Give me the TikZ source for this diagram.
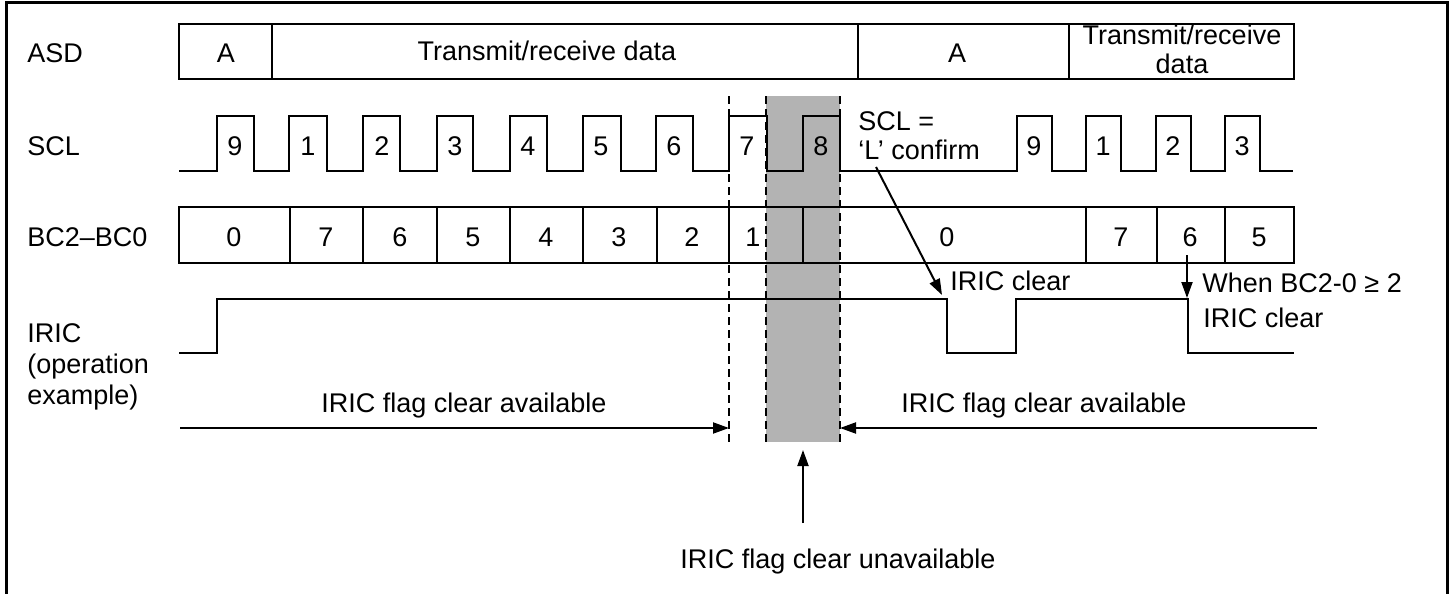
\documentclass[tikz,border=0pt]{standalone}
\usepackage{fontspec}
\setmainfont{Liberation Sans}
\usetikzlibrary{arrows.meta}
\definecolor{grayfill}{HTML}{B3B3B3}
\begin{document}
\begin{tikzpicture}[x=0.5pt,y=-0.5pt,
  sig/.style={line width=1pt, line join=miter},
  frm/.style={line width=1.5pt},
  dsh/.style={line width=0.7pt, dash pattern=on 4pt off 2.5pt},
  arr/.style={line width=1pt, -{Triangle[length=8pt,width=5.5pt]}},
  lbl/.style={inner sep=0pt, font=\fontsize{13.5}{15.5}\selectfont},
  lft/.style={lbl, anchor=base west, align=left},
  ctr/.style={lbl, anchor=base},
]
\useasboundingbox (0,0) rectangle (1453,594);
% frame
\draw[frm] (6,620) -- (6,2) -- (1447,2) -- (1447,620);
% shaded region
\fill[fill=grayfill] (766,96) rectangle (840,442);
% dashed guides
\foreach \x in {729,766,840} \draw[dsh] (\x,96) -- (\x,442);

% row labels
\node[lft] (lASD) at (27,62) {ASD};
\node[lft] (lSCL) at (27,155) {SCL};
\node[lft] (lBC) at (27,246) {BC2–BC0};
\node[lft] (lIRIC) at (27,404) {IRIC\\(operation\\example)};

% ASD row
\draw[sig] (179,24) rectangle (1294,79);
\foreach \x in {272,858,1069} \draw[sig] (\x,24) -- (\x,79);
\node[ctr] (a1) at (226,62) {A};
\node[ctr] (a2) at (547,61) {Transmit/receive data};
\node[ctr] (a3) at (957,62) {A};
\node[lbl, anchor=base, align=center, font=\fontsize{13.5}{14}\selectfont] (a4) at (1182,73) {Transmit/receive\\data};

% SCL row
\draw[sig] (179,171)
  \foreach \r/\f in {217/254,289/327,363/400,437/473,510/547,583/621,656/693,729/767,803/840,1017/1052,1086/1121,1156/1191,1225/1260}
  { -- (\r,171) -- (\r,116) -- (\f,116) -- (\f,171) } -- (1293,171);
\foreach \x/\t [count=\i] in {235/9,308/1,382/2,455/3,528/4,601/5,674/6,747/7,821/8,1034/9,1103/1,1173/2,1242/3}
  \node[ctr] (s\i) at (\x,155) {\t};
\node[lbl, anchor=base west, align=left, font=\fontsize{13.5}{14.5}\selectfont] (conf) at (858,159) {SCL =\\‘L’ confirm};

% BC row
\draw[sig] (179,207) rectangle (1294,263);
\foreach \x in {290,363,437,510,583,657,729,803,1086,1157,1225} \draw[sig] (\x,207) -- (\x,263);
\foreach \x/\t [count=\i] in {234/0,326/7,400/6,473/5,546/4,619/3,692/2,753/1,947/0,1121/7,1190/6,1259/5}
  \node[ctr] (b\i) at (\x,246) {\t};

% IRIC waveform
\draw[sig] (179,353) -- (217,353) -- (217,299) -- (947,299) -- (947,353) -- (1016,353) -- (1016,299) -- (1188,299) -- (1188,353) -- (1294,353);
\coordinate (fall1) at (942,295);
\coordinate (conft) at (876,167);
\coordinate (b11b) at (1187,255);
\coordinate (fall2) at (1187,298);
\draw[arr] (conft) -- (fall1);
\draw[arr] (b11b) -- (fall2);
\node[lft] (clr1) at (950,290) {IRIC clear};
\node[lft] (when) at (1202,292) {When BC2-0 ≥ 2};
\node[lft] (clr2) at (1203,327) {IRIC clear};

% availability arrows
\coordinate (la) at (180,428);
\coordinate (lb) at (729,428);
\coordinate (ra) at (1317,428);
\coordinate (rb) at (840,428);
\draw[arr] (la) -- (lb);
\draw[arr] (ra) -- (rb);
\node[ctr] (avl) at (464,412) {IRIC flag clear available};
\node[ctr] (avr) at (1044,412) {IRIC flag clear available};
\coordinate (ua) at (803,523);
\coordinate (ub) at (803,450);
\draw[arr] (ua) -- (ub);
\node[lbl, anchor=base west] (unav) at (680,568) {IRIC flag clear unavailable};
\end{tikzpicture}
\end{document}
